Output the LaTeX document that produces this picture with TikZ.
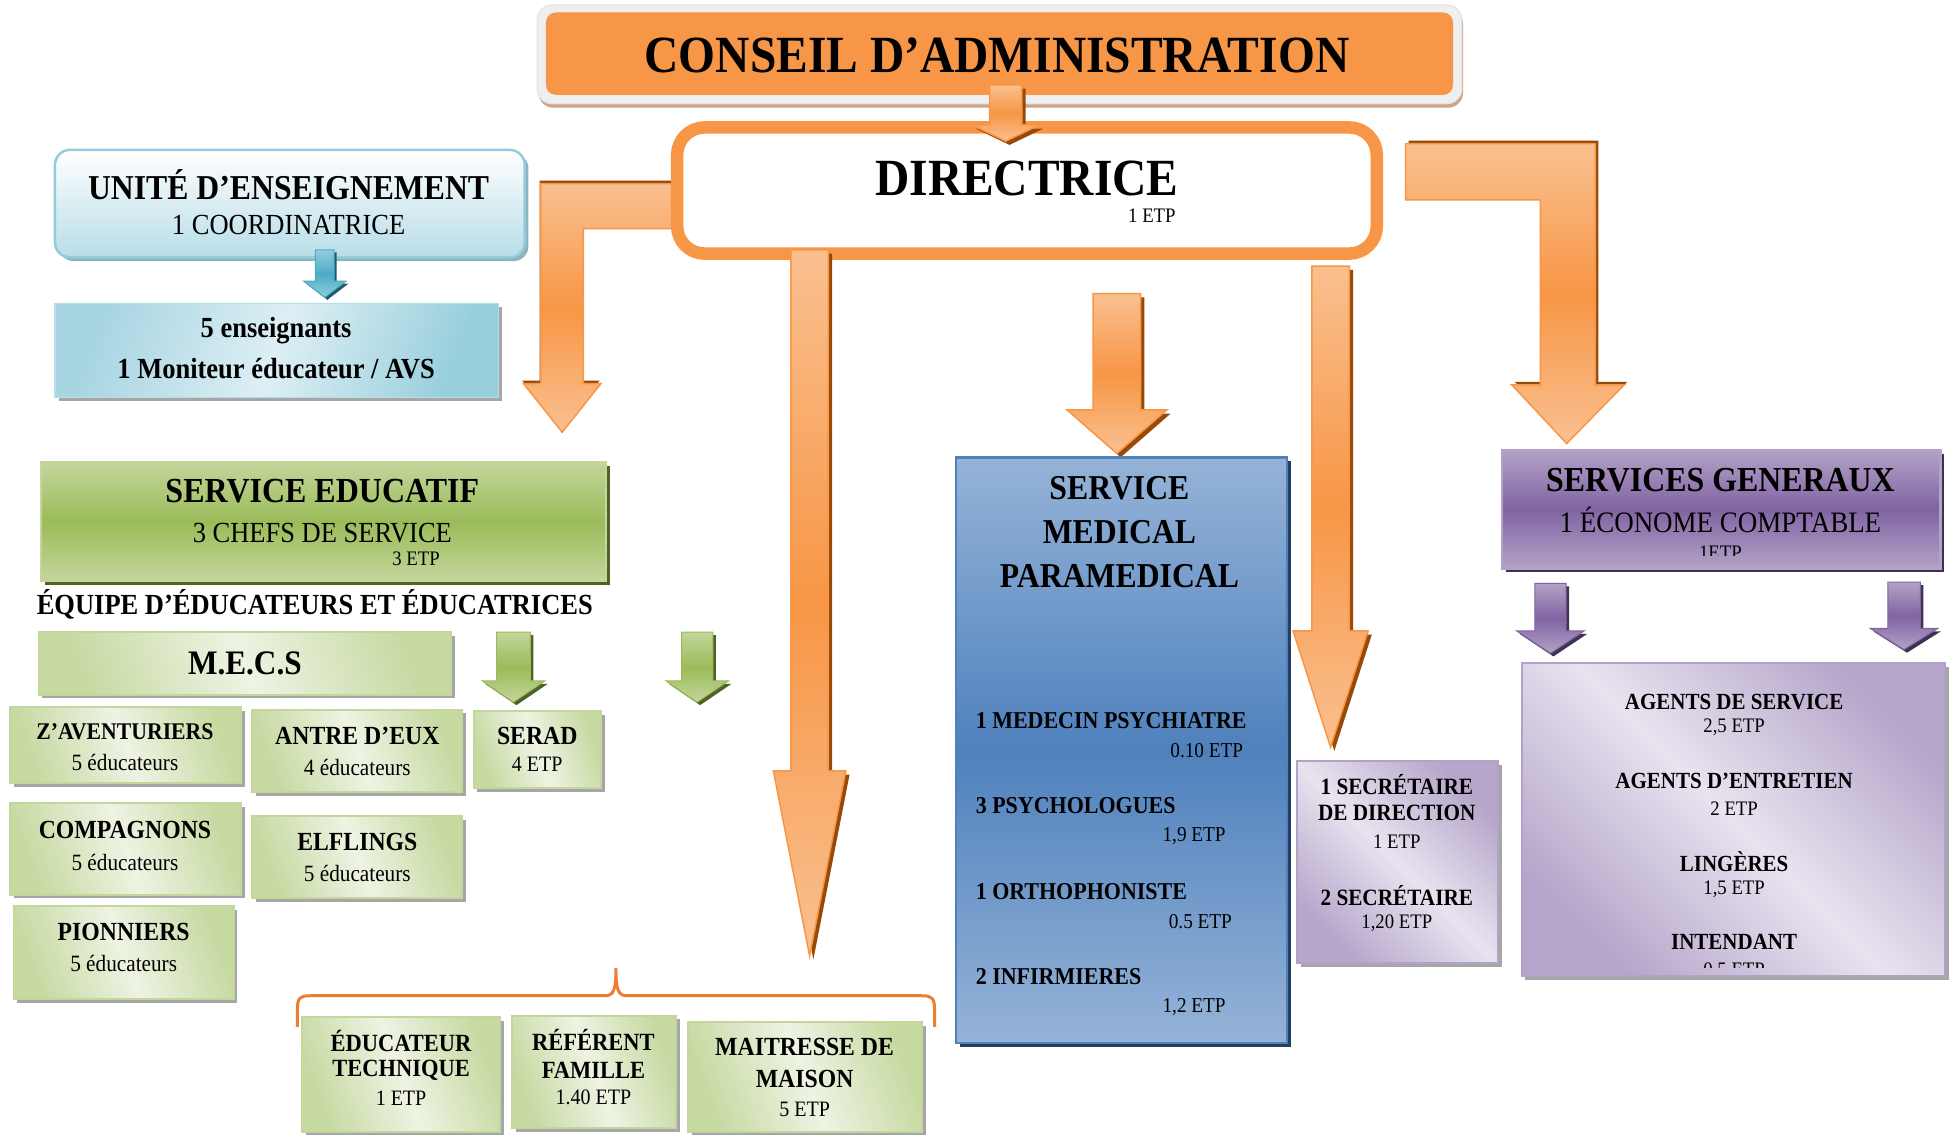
\documentclass[tikz,border=0pt]{standalone}
\usepackage{fontspec}
\setmainfont{Liberation Serif}
\usetikzlibrary{shadows,fit}
\definecolor{orM}{HTML}{F79646}
\definecolor{orL}{HTML}{FAC090}
\definecolor{orS}{HTML}{984807}
\definecolor{brc}{HTML}{ED7D31}
\definecolor{uB}{HTML}{93CDDD}
\definecolor{uM}{HTML}{B7DDE8}
\definecolor{uS}{HTML}{8FB3BF}
\definecolor{eA}{HTML}{A8D5E2}
\definecolor{eB}{HTML}{DDEFF4}
\definecolor{eC}{HTML}{97CEDC}
\definecolor{bAM}{HTML}{4BACC6}
\definecolor{bAS}{HTML}{215968}
\definecolor{gL}{HTML}{C3D69B}
\definecolor{gM}{HTML}{9BBB59}
\definecolor{gS}{HTML}{4F6228}
\definecolor{gA}{HTML}{C6D9A1}
\definecolor{gH}{HTML}{EEF3E3}
\definecolor{shG}{HTML}{A6A6A6}
\definecolor{mL}{HTML}{95B3D7}
\definecolor{mM}{HTML}{4F81BD}
\definecolor{mS}{HTML}{243F60}
\definecolor{pL}{HTML}{B3A2C7}
\definecolor{pM}{HTML}{8064A2}
\definecolor{pS}{HTML}{3F3151}
\definecolor{pA}{HTML}{B6A6CB}
\definecolor{pH}{HTML}{E8E3EF}
\definecolor{cfr}{HTML}{EFEFEF}
\definecolor{cfs}{HTML}{CFA383}
\tikzset{
  every node/.style={inner sep=0pt, outer sep=0pt},
  txt/.style={font=\fontsize{#1}{#1}\selectfont, yscale=1.1, transform shape},
  txb/.style={font=\fontsize{#1}{#1}\selectfont\bfseries, yscale=1.1, transform shape},
  shd/.style={drop shadow={shadow xshift=1.5pt, shadow yshift=-1.5pt, fill=#1, opacity=1}},
  unitebox/.style={rounded corners=6pt, draw=uB, line width=1pt, top color=white, bottom color=uM, shd=uS},
  ensbox/.style={draw=uM, line width=0.6pt, left color=eA, right color=eC, middle color=eB, shading angle=70, shd=shG},
  sebox/.style={draw=gL, line width=1pt, top color=gL, bottom color=gL, middle color=gM, shd=gS},
  grbox/.style={draw=gL, line width=0.8pt, left color=gA, right color=gA, middle color=gH, shading angle=110, shd=shG},
  medbox/.style={draw=mM, line width=1pt, top color=mL, bottom color=mL, middle color=mM, shd=mS},
  sgbox/.style={draw=pL, line width=1pt, top color=pL, bottom color=pL, middle color=pM, shd=pS},
  plbox/.style={draw=pL, line width=0.8pt, left color=pA, right color=pA, middle color=pH, shading angle=135, shd=shG},
  orar/.style={draw=orM, line width=0.6pt, top color=orL, bottom color=orL, middle color=orM},
  orsh/.style={fill=orS, xshift=1.5pt, yshift=-1.5pt},
  grar/.style={draw=gM, line width=0.4pt, top color=gL, bottom color=gL, middle color=gM},
  grsh/.style={fill=gS, xshift=1.2pt, yshift=-1.2pt},
  puar/.style={draw=pM, line width=0.4pt, top color=pL, bottom color=pL, middle color=pM},
  push/.style={fill=pS, xshift=1.2pt, yshift=-1.2pt},
  blar/.style={draw=bAM, line width=0.4pt, top color=uB, bottom color=uB, middle color=bAM},
  blsh/.style={fill=bAS, xshift=1pt, yshift=-1pt},
  bracestyle/.style={draw=brc, line width=1.2pt},
}
\newcommand\blockarrow[8]{%
  \fill[#2] (#3-#4,#5) -- (#3+#4,#5) -- (#3+#4,#6) -- (#3+#7,#6) -- (#3,#8) -- (#3-#7,#6) -- (#3-#4,#6) -- cycle;
  \path[#1] (#3-#4,#5) -- (#3+#4,#5) -- (#3+#4,#6) -- (#3+#7,#6) -- (#3,#8) -- (#3-#7,#6) -- (#3-#4,#6) -- cycle;}
\begin{document}
\begin{tikzpicture}[x=0.5pt, y=-0.5pt]
\useasboundingbox (0,0) rectangle (1568,908);
\fill[white] (0,0) rectangle (1568,908);

% bent arrows (behind directrice)
\fill[orS, xshift=-0.5pt, yshift=1.2pt] (540,147) -- (433,147) -- (433,307) -- (419,307) -- (450,346) -- (481,307) -- (467,307) -- (467,183) -- (540,183) -- cycle;
\path[orar] (540,147) -- (433,147) -- (433,307) -- (419,307) -- (450,346) -- (481,307) -- (467,307) -- (467,183) -- (540,183) -- cycle;
\fill[orS, xshift=1.2pt, yshift=1.2pt] (1125,115) -- (1277,115) -- (1277,308) -- (1300,308) -- (1254,355) -- (1210,308) -- (1233,308) -- (1233,160) -- (1125,160) -- cycle;
\path[orar] (1125,115) -- (1277,115) -- (1277,308) -- (1300,308) -- (1254,355) -- (1210,308) -- (1233,308) -- (1233,160) -- (1125,160) -- cycle;

% Conseil
\node[fit={(430,4) (1170,83)}, rounded corners=6pt, fill=cfr, draw=gray!20, line width=0.5pt,
      drop shadow={shadow xshift=0.5pt, shadow yshift=-1.6pt, fill=cfs, opacity=1}] (conseilframe) {};
\node[fit={(437,10) (1163,76)}, rounded corners=4pt, fill=orM] (conseil) {};
\node[txb=19] (conseilt) at (798,44) {CONSEIL D’ADMINISTRATION};

% Directrice
\node[draw=orM, line width=5pt, rounded corners=11pt, fill=white, fit={(542,102) (1102,203)}] (directrice) {};
\node[txb=19] (directricet) at (822,143) {DIRECTRICE};
\node[txt=7.5] (directriceetp) at (922,173) {1 ETP};

% arrows from directrice
\blockarrow{orar}{orsh}{805}{13}{68}{100}{27}{113}
\blockarrow{orar}{orsh}{648}{15}{200}{617}{29}{765}
\blockarrow{orar}{orsh}{894}{19}{235}{328}{40}{363}
\blockarrow{orar}{orsh}{1065}{15}{213}{505}{30}{598}

% Unite d'enseignement
\node[unitebox, fit={(44,120) (420,206)}] (unite) {};
\node[txb=12.7] at (231,148) {UNITÉ D’ENSEIGNEMENT};
\node[txt=10.6] at (231,180) {1 COORDINATRICE};
\blockarrow{blar}{blsh}{260}{7.5}{200}{225}{17}{238}
\node[ensbox, fit={(44,243) (399,318)}] (ens) {};
\node[txb=10.6] at (221,265) {5 enseignants};
\node[txb=10.6] at (221,295) {1 Moniteur éducateur / AVS};

% Service educatif
\node[sebox, fit={(33,370) (485,465)}] (se) {};
\node[txb=12.8] at (258,393) {SERVICE EDUCATIF};
\node[txt=10.6] at (258,427) {3 CHEFS DE SERVICE};
\node[txt=7.5] at (333,447) {3 ETP};
\node[txb=10.6] (equipe) at (252,484) {ÉQUIPE D’ÉDUCATEURS ET ÉDUCATRICES};

\node[grbox, fit={(31,506) (361,556)}] (mecs) {};
\node[txb=12.5] at (196,531) {M.E.C.S};
\blockarrow{grar}{grsh}{411}{13.5}{506}{545}{25}{562}
\blockarrow{grar}{grsh}{558}{12.5}{506}{545}{25}{562}

\node[grbox, fit={(8,566) (193,627)}] (zav) {};
\node[txb=8.7] at (100,586) {Z’AVENTURIERS};
\node[txt=8.5] at (100,610) {5 éducateurs};
\node[grbox, fit={(202,568) (370,634)}] (antre) {};
\node[txb=9.5] at (286,589) {ANTRE D’EUX};
\node[txt=8.5] at (286,614) {4 éducateurs};
\node[grbox, fit={(379,569) (481,631)}] (serad) {};
\node[txb=9.5] at (430,589) {SERAD};
\node[txt=8] at (430,612) {4 ETP};
\node[grbox, fit={(8,643) (193,716)}] (comp) {};
\node[txb=9.5] at (100,664) {COMPAGNONS};
\node[txt=8.5] at (100,690) {5 éducateurs};
\node[grbox, fit={(202,653) (370,719)}] (elf) {};
\node[txb=9.5] at (286,674) {ELFLINGS};
\node[txt=8.5] at (286,699) {5 éducateurs};
\node[grbox, fit={(11,725) (187,800)}] (pion) {};
\node[txb=9.5] at (99,746) {PIONNIERS};
\node[txt=8.5] at (99,771) {5 éducateurs};

% brace and bottom boxes
\draw[bracestyle] (238,822) -- (238,808) .. controls (238,799) and (240,797) .. (248,797) -- (484,797) .. controls (491,797) and (493,793) .. (493,775) .. controls (493,793) and (495,797) .. (502,797) -- (738,797) .. controls (746,797) and (748,799) .. (748,808) -- (748,822);
\node[grbox, fit={(242,814) (400,906)}] (edtech) {};
\node[txb=9] at (321,833) {ÉDUCATEUR};
\node[txb=9] at (321,857) {TECHNIQUE};
\node[txt=8] at (321,879) {1 ETP};
\node[grbox, fit={(410,813) (541,903)}] (ref) {};
\node[txb=9] at (475,832) {RÉFÉRENT};
\node[txb=9] at (475,857) {FAMILLE};
\node[txt=8] at (475,878) {1.40 ETP};
\node[grbox, fit={(551,818) (738,906)}] (maitresse) {};
\node[txb=9.5] at (644,838) {MAITRESSE DE};
\node[txb=9.5] at (644,864) {MAISON};
\node[txt=8] at (644,888) {5 ETP};

% Service medical
\node[medbox, fit={(765,366) (1030,835)}] (med) {};
\node[txb=12.7] at (896,391) {SERVICE};
\node[txb=12.7] at (896,426) {MEDICAL};
\node[txb=12.7] at (896,461) {PARAMEDICAL};
\node[txb=8.8, anchor=west] at (781,577) {1 MEDECIN PSYCHIATRE};
\node[txt=7.7, anchor=east] at (995,601) {0.10 ETP};
\node[txb=8.8, anchor=west] at (781,645) {3 PSYCHOLOGUES};
\node[txt=7.7, anchor=east] at (981,669) {1,9 ETP};
\node[txb=8.8, anchor=west] at (781,714) {1 ORTHOPHONISTE};
\node[txt=7.7, anchor=east] at (986,738) {0.5 ETP};
\node[txb=8.8, anchor=west] at (781,782) {2 INFIRMIERES};
\node[txt=7.7, anchor=east] at (981,806) {1,2 ETP};

% Secretariat
\node[plbox, fit={(1038,609) (1199,771)}] (secr) {};
\node[txb=8.5] at (1118,628) {1 SECRÉTAIRE};
\node[txb=8.5] at (1118,651) {DE DIRECTION};
\node[txt=7.5] at (1118,674) {1 ETP};
\node[txb=8.5] at (1118,717) {2 SECRÉTAIRE};
\node[txt=7.5] at (1118,739) {1,20 ETP};

% Services generaux
\node[sgbox, fit={(1202,360) (1553,455)}] (sg) {};
\node[txb=12.75] at (1377,384) {SERVICES GENERAUX};
\node[txt=10.8] at (1377,416) {1 ÉCONOME COMPTABLE};
\begin{scope}
\clip (1202,360) rectangle (1553,445);
\node[txt=7.5] at (1377,442) {1ETP};
\end{scope}
\blockarrow{puar}{push}{1241}{12.5}{467}{505}{27}{523}
\blockarrow{puar}{push}{1524}{13}{466}{503}{27}{520}
\node[plbox, fit={(1218,531) (1557,781)}] (agents) {};
\node[txb=8.4] at (1388,562) {AGENTS DE SERVICE};
\node[txt=7.5] at (1388,582) {2,5 ETP};
\node[txb=8.4] at (1388,625) {AGENTS D’ENTRETIEN};
\node[txt=7.5] at (1388,647) {2 ETP};
\node[txb=8.4] at (1388,690) {LINGÈRES};
\node[txt=7.5] at (1388,712) {1,5 ETP};
\node[txb=8.4] at (1388,754) {INTENDANT};
\begin{scope}
\clip (1218,531) rectangle (1557,774);
\node[txt=7.5] at (1388,777) {0,5 ETP};
\end{scope}
\end{tikzpicture}
\end{document}
